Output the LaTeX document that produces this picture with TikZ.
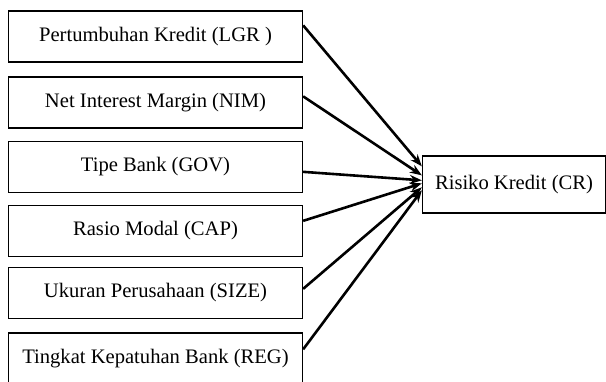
\documentclass[tikz,border=0pt]{standalone}
\usepackage{fontspec}
\setmainfont{Liberation Serif}
\usetikzlibrary{arrows.meta,calc}
\begin{document}
\begin{tikzpicture}[x=1pt,y=1pt,
  varbox/.style={draw=black, line width=1.3pt, minimum width=294pt, minimum height=51pt, inner sep=0pt, font=\fontsize{20.6}{24}\selectfont},
  link/.style={line width=2.6pt, -{Stealth[length=12pt,width=9pt]}}]
\useasboundingbox (0,0) rectangle (606,-382);
\node[varbox] (b1) at (155.5,-36.5) {Pertumbuhan Kredit (LGR )};
\node[varbox] (b2) at (155.5,-102.5) {Net Interest Margin (NIM)};
\node[varbox] (b3) at (155.5,-167) {Tipe Bank (GOV)};
\node[varbox] (b4) at (155.5,-231) {Rasio Modal (CAP)};
\node[varbox] (b5) at (155.5,-293) {Ukuran Perusahaan (SIZE)};
\node[varbox] (b6) at (155.5,-358.5) {Tingkat Kepatuhan Bank (REG)};
\node[varbox, minimum width=183pt, minimum height=57pt] (cr) at (514,-184.5) {Risiko Kredit (CR)};
\draw[link] ([yshift=-15pt]b1.north east) -- ([yshift=-11pt]cr.north west);
\draw[link] ([yshift=-20pt]b2.north east) -- ([yshift=-20pt]cr.north west);
\draw[link] ([yshift=-31pt]b3.north east) -- ([yshift=-25pt]cr.north west);
\draw[link] ([yshift=-16pt]b4.north east) -- ([yshift=-28pt]cr.north west);
\draw[link] ([yshift=-22pt]b5.north east) -- ([yshift=-32pt]cr.north west);
\draw[link] ([yshift=-17pt]b6.north east) -- ([yshift=-35pt]cr.north west);
\end{tikzpicture}
\end{document}
